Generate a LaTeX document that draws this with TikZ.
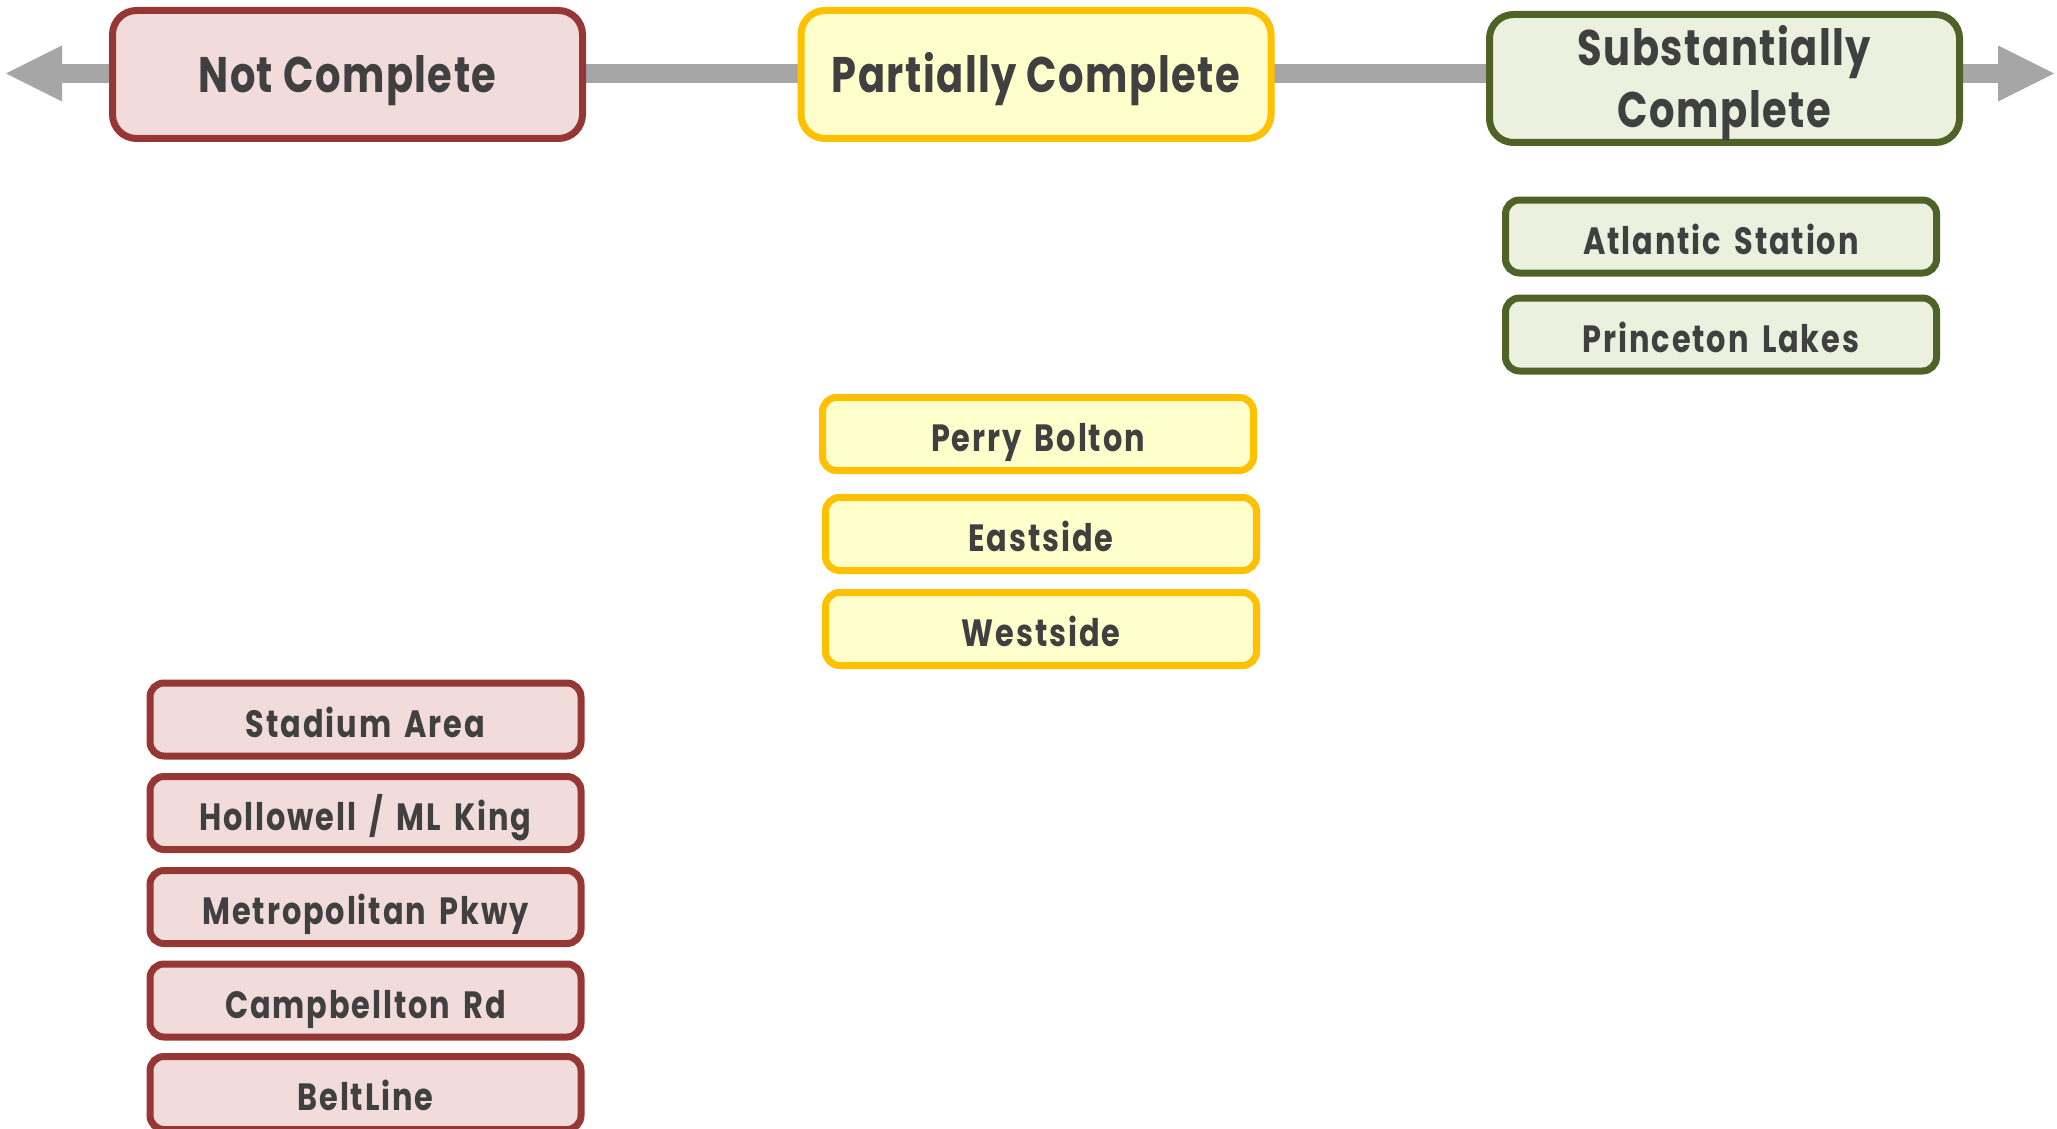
\documentclass[tikz,border=0pt]{standalone}
\usepackage{fontspec}
\setmainfont{Poppins}
\newfontfamily\hdfont{Poppins}[FakeStretch=0.8, LetterSpace=3]
\newfontfamily\lsfont{Poppins}[FakeStretch=0.8, LetterSpace=5, WordSpace=1.6]
\definecolor{redB}{HTML}{953735}
\definecolor{redF}{HTML}{F2DCDB}
\definecolor{yelB}{HTML}{FFC000}
\definecolor{yelF}{HTML}{FFFFCC}
\definecolor{grnB}{HTML}{4F6228}
\definecolor{grnF}{HTML}{EBF1DE}
\definecolor{axisG}{HTML}{A6A6A6}
\definecolor{txt}{HTML}{404040}
\tikzset{
  box/.style={draw, line width=7pt, inner sep=0pt, text=txt, align=center},
  bigbox/.style={box, minimum width=470pt, minimum height=128pt, rounded corners=24pt,
    font=\hdfont\fontsize{50}{62}\selectfont\bfseries, text height=37pt, text depth=0pt},
  smallbox/.style={box, minimum width=431pt, minimum height=73pt, rounded corners=14pt,
    font=\lsfont\fontsize{38}{44}\selectfont\bfseries, text height=35pt, text depth=0pt},
  redbox/.style={draw=redB, fill=redF},
  yelbox/.style={draw=yelB, fill=yelF},
  grnbox/.style={draw=grnB, fill=grnF},
  axisbar/.style={draw=axisG, line width=19pt},
  axishead/.style={fill=axisG}
}
\begin{document}
\begin{tikzpicture}[x=1pt,y=-1pt]
\useasboundingbox (0,0) rectangle (2057,1129);
% axis
\coordinate (axL) at (6,73.5);
\coordinate (axR) at (2054,73.5);
\draw[axisbar] (60,73.5) -- (2000,73.5);
\fill[axishead] (axL) -- (62,45.5) -- (62,101.5) -- cycle;
\fill[axishead] (axR) -- (1998,45.5) -- (1998,101.5) -- cycle;
% headers
\node[bigbox, redbox] (nc) at (347.5,74.5) {Not Complete};
\node[bigbox, yelbox] (pc) at (1036,74.5) {Partially Complete};
\node[bigbox, grnbox, text height=99pt] (sc) at (1724.5,78.5) {Substantially\\Complete};
% green list
\node[smallbox, grnbox] (as) at (1721,236.5) {Atlantic Station};
\node[smallbox, grnbox] (pl) at (1721,334.5) {Princeton Lakes};
% yellow list
\node[smallbox, yelbox] (pb) at (1038,434) {Perry Bolton};
\node[smallbox, yelbox] (es) at (1041,534) {Eastside};
\node[smallbox, yelbox] (ws) at (1041,629) {Westside};
% red list
\node[smallbox, redbox] (sa) at (365.5,719.5) {Stadium Area};
\node[smallbox, redbox] (hm) at (365.5,813) {Hollowell / ML King};
\node[smallbox, redbox] (mp) at (365.5,907) {Metropolitan Pkwy};
\node[smallbox, redbox] (cr) at (365.5,1000.5) {Campbellton Rd};
\node[smallbox, redbox] (bl) at (365.5,1093) {BeltLine};
\end{tikzpicture}
\end{document}
